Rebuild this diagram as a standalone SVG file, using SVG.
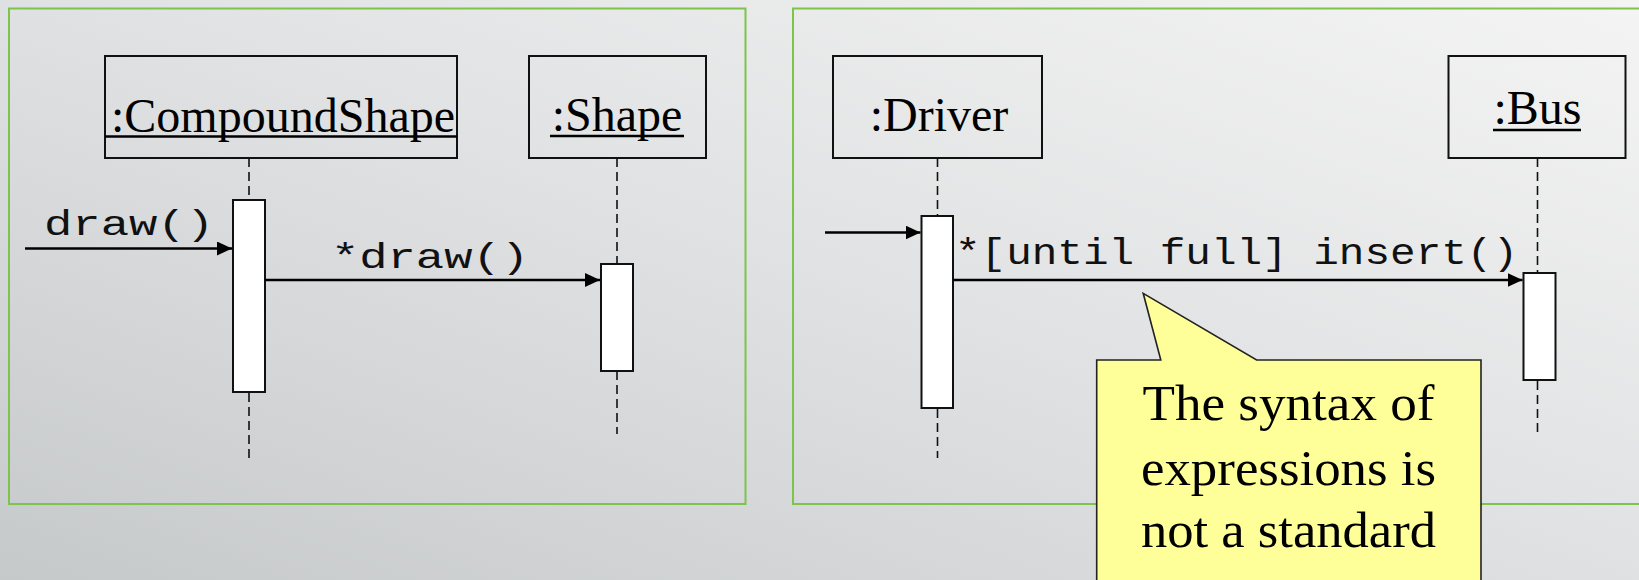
<svg xmlns="http://www.w3.org/2000/svg" width="1639" height="580" viewBox="0 0 1639 580">
  <defs>
    <linearGradient id="bg" x1="0" y1="1" x2="1" y2="0">
      <stop offset="0" stop-color="#c6c9ca"/>
      <stop offset="0.55" stop-color="#e2e3e4"/>
      <stop offset="1" stop-color="#f4f4f4"/>
    </linearGradient>
    <marker id="arrow" viewBox="0 0 15 14" refX="15" refY="7" markerWidth="15" markerHeight="14" markerUnits="userSpaceOnUse" orient="auto">
      <path d="M0,0 L15,7 L0,14 Z" fill="#000"/>
    </marker>
    <style>
      .panel { fill: none; stroke: #7dc44a; stroke-width: 2; }
      .head { fill: none; stroke: #111; stroke-width: 2; }
      .act { fill: #fff; stroke: #111; stroke-width: 2; }
      .life { stroke: #111; stroke-width: 1.6; stroke-dasharray: 9 5; fill: none; }
      .msg { stroke: #000; stroke-width: 2.6; fill: none; marker-end: url(#arrow); }
      .uline { stroke: #000; stroke-width: 2.6; }
      .name { font-family: "Liberation Serif", "Times New Roman", serif; font-size: 48px; fill: #000; text-anchor: middle; }
      .mono { font-family: "Liberation Mono", "Courier New", monospace; fill: #111; }
      .note { fill: #ffff99; stroke: #222; stroke-width: 1.6; }
      .noteText { font-family: "Liberation Serif", "Times New Roman", serif; font-size: 51px; fill: #000; text-anchor: middle; }
    </style>
  </defs>

  <!-- slide background -->
  <rect x="0" y="0" width="1639" height="580" fill="url(#bg)"/>

  <!-- frames around the two examples -->
  <rect class="panel" x="9" y="8.5" width="736.5" height="495.5"/>
  <rect class="panel" x="793" y="8.5" width="860" height="495.5"/>

  <!-- lifelines (dashed) -->
  <g id="lifelines">
    <path class="life" d="M249,158 V200 M249,393 V458"/>
    <path class="life" d="M617,158 V264 M617,371 V434"/>
    <path class="life" d="M937.5,158 V216 M937.5,409 V458"/>
    <path class="life" d="M1537.5,158 V273 M1537.5,381 V434"/>
  </g>

  <!-- left example: CompoundShape draws its parts -->
  <g id="compoundShape">
    <rect class="head" x="105" y="56" width="352" height="102"/>
    <text class="name" x="283" y="131.5">:CompoundShape</text>
    <line class="uline" x1="105" y1="136.5" x2="457" y2="136.5"/>
    <rect class="act" x="233" y="200" width="32" height="192"/>
  </g>

  <g id="shape">
    <rect class="head" x="529" y="56" width="177" height="102"/>
    <text class="name" x="617" y="131">:Shape</text>
    <line class="uline" x1="550" y1="136" x2="684" y2="136"/>
    <rect class="act" x="601" y="264" width="32" height="107"/>
  </g>

  <!-- right example: Driver fills the Bus -->
  <g id="driver">
    <rect class="head" x="833" y="56" width="209" height="102"/>
    <text class="name" x="939" y="131">:Driver</text>
    <rect class="act" x="921.5" y="216" width="31.5" height="192"/>
  </g>

  <g id="bus">
    <rect class="head" x="1448.5" y="56" width="177" height="102"/>
    <text class="name" x="1537.5" y="124">:Bus</text>
    <line class="uline" x1="1493" y1="130" x2="1581" y2="130"/>
    <rect class="act" x="1523.5" y="273" width="32" height="107"/>
  </g>

  <!-- messages -->
  <g id="connectors">
    <line class="msg" x1="25" y1="248.5" x2="232" y2="248.5"/>
    <line class="msg" x1="265" y1="280" x2="600" y2="280"/>
    <line class="msg" x1="825" y1="232.5" x2="920.5" y2="232.5"/>
    <line class="msg" x1="953" y1="280" x2="1522.5" y2="280"/>
  </g>

  <g id="messageLabels">
    <text class="mono" x="44" y="235" font-size="35" textLength="170" lengthAdjust="spacingAndGlyphs">draw()</text>
    <text class="mono" x="331" y="267.5" font-size="35" textLength="198" lengthAdjust="spacingAndGlyphs">*draw()</text>
    <text class="mono" x="955" y="263.5" font-size="37" textLength="563" lengthAdjust="spacingAndGlyphs">*[until full] insert()</text>
  </g>

  <!-- note callout -->
  <g id="note">
    <path class="note" d="M1096.7,360 H1160.8 L1143.2,293.3 L1256.6,360 H1481 V585 H1096.7 Z"/>
    <text class="noteText" x="1288.5" y="420" textLength="292" lengthAdjust="spacingAndGlyphs">The syntax of</text>
    <text class="noteText" x="1288.5" y="485" textLength="295" lengthAdjust="spacingAndGlyphs">expressions is</text>
    <text class="noteText" x="1288.5" y="547" textLength="295" lengthAdjust="spacingAndGlyphs">not a standard</text>
  </g>
</svg>
